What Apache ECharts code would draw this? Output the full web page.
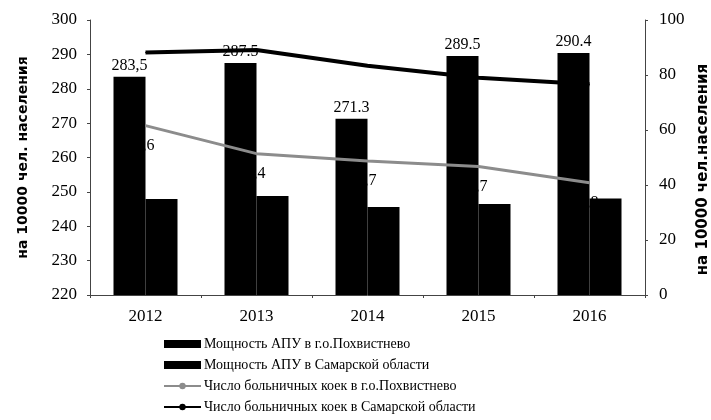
<!DOCTYPE html>
<html>
<head>
<meta charset="utf-8">
<script src="https://cdn.jsdelivr.net/npm/echarts@6/dist/echarts.min.js"></script>
<style>
  html, body { margin: 0; padding: 0; background: #fff; }
  #chart { width: 711px; height: 420px; }
</style>
</head>
<body>
<div id="chart"></div>
<script>
// годы
const years = ['2012', '2013', '2014', '2015', '2016'];

// мощность АПУ (левая ось)
const apuPokhv = [283.5, 287.5, 271.3, 289.5, 290.4];
const apuSamara = [247.9, 248.8, 245.6, 246.5, 248.1];
// подписи столбцов как на исходной картинке
const apuPokhvLabels = ['283,5', '287.5', '271.3', '289.5', '290.4'];

// число больничных коек (правая ось)
const bedsPokhv = [61.6, 51.4, 48.7, 46.7, 40.8];
const bedsSamara = [88.2, 89.1, 83.4, 79.0, 76.6];

const seriesNames = [
  'Мощность АПУ в г.о.Похвистнево',
  'Мощность АПУ в Самарской области',
  'Число больничных коек в г.о.Похвистнево',
  'Число больничных коек в Самарской области'
];

const serif = '"Liberation Serif", "Times New Roman", serif';
const sansBold = '"DejaVu Sans", sans-serif';
const axisColor = '#444';

const chart = echarts.init(document.getElementById('chart'));

const option = {
  animation: false,
  backgroundColor: '#fff',
  textStyle: { fontFamily: serif, color: '#000' },
  grid: { left: 90, right: 66, top: 20, bottom: 125, outerBoundsMode: 'none' },
  legend: {
    orient: 'vertical',
    left: 163,
    top: 336,
    height: 200,
    padding: 0,
    itemWidth: 37,
    itemHeight: 8,
    itemGap: 5,
    textStyle: { fontFamily: serif, fontSize: 14, color: '#000', lineHeight: 16, padding: [0, 0, 0, -2] },
    data: [
      { name: seriesNames[0], icon: 'rect' },
      { name: seriesNames[1], icon: 'rect' },
      { name: seriesNames[2] },
      { name: seriesNames[3] }
    ]
  },
  xAxis: {
    type: 'category',
    data: years,
    axisLine: { lineStyle: { color: axisColor, width: 1 } },
    axisTick: { show: true, length: 3, inside: false, lineStyle: { color: axisColor } },
    axisLabel: { fontFamily: serif, fontSize: 17, color: '#000', margin: 13 }
  },
  yAxis: [
    {
      type: 'value',
      min: 220,
      max: 300,
      interval: 10,
      name: 'на 10000 чел. населения',
      nameLocation: 'middle',
      nameRotate: 90,
      nameGap: 60,
      nameTextStyle: {
        fontFamily: sansBold,
        fontWeight: 'bold',
        fontSize: 14,
        color: '#000'
      },
      splitLine: { show: false },
      axisLine: { show: true, lineStyle: { color: axisColor, width: 1 } },
      axisTick: { show: true, length: 3, lineStyle: { color: axisColor } },
      axisLabel: { fontFamily: serif, fontSize: 17, color: '#000', margin: 13 }
    },
    {
      type: 'value',
      min: 0,
      max: 100,
      interval: 20,
      position: 'right',
      name: 'на 10000 чел.населения',
      nameLocation: 'middle',
      nameRotate: 90,
      nameGap: 50,
      nameTextStyle: {
        fontFamily: sansBold,
        fontWeight: 'bold',
        fontSize: 15,
        color: '#000',
        padding: [0, 24, 0, 0]
      },
      splitLine: { show: false },
      axisLine: { show: true, lineStyle: { color: axisColor, width: 1 } },
      axisTick: { show: true, length: 3, lineStyle: { color: axisColor } },
      axisLabel: { fontFamily: serif, fontSize: 17, color: '#000', margin: 14 }
    }
  ],
  series: [
    {
      name: seriesNames[0],
      type: 'bar',
      yAxisIndex: 0,
      barWidth: 32,
      barGap: '0%',
      data: apuPokhv,
      itemStyle: { color: '#000' },
      label: {
        show: true,
        position: 'top',
        distance: 3,
        fontFamily: serif,
        fontSize: 16,
        color: '#000',
        formatter: p => apuPokhvLabels[p.dataIndex]
      }
    },
    {
      name: seriesNames[1],
      type: 'bar',
      yAxisIndex: 0,
      barWidth: 32,
      barGap: '0%',
      data: apuSamara,
      itemStyle: { color: '#000' }
    },
    {
      name: seriesNames[2],
      type: 'line',
      yAxisIndex: 1,
      data: bedsPokhv,
      symbol: 'circle',
      symbolSize: 1,
      showSymbol: true,
      lineStyle: { color: '#8c8c8c', width: 3 },
      itemStyle: { color: '#8c8c8c' },
      label: {
        show: true,
        position: 'inside',
        offset: [-5, 20],
        fontFamily: serif,
        fontSize: 16,
        color: '#000',
        formatter: p => String(p.value).replace('.', ',')
      }
    },
    {
      name: seriesNames[3],
      type: 'line',
      yAxisIndex: 1,
      data: bedsSamara,
      symbol: 'circle',
      symbolSize: 1,
      lineStyle: { color: '#000', width: 4 },
      itemStyle: { color: '#000' }
    }
  ]
};

chart.setOption(option);
</script>
</body>
</html>
